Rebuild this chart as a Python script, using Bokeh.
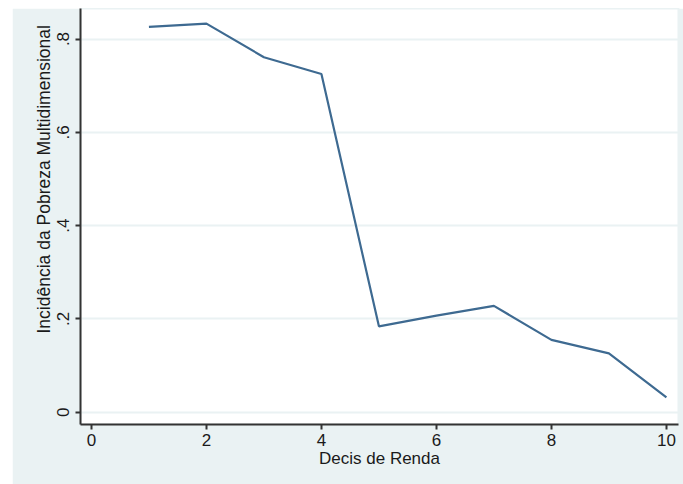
from bokeh.plotting import figure
from bokeh.models import ColumnDataSource, FixedTicker, CustomJSTickFormatter, Range1d, Spacer, Title
from bokeh.layouts import row, column
from bokeh.embed import file_html
from bokeh.resources import INLINE

decis = [1, 2, 3, 4, 5, 6, 7, 8, 9, 10]
incidencia = [0.826, 0.833, 0.761, 0.725, 0.184, 0.207, 0.228, 0.155, 0.126, 0.032]
x_ticks = [0, 2, 4, 6, 8, 10]
y_ticks = [0, 0.2, 0.4, 0.6, 0.8]
x_title = "Decis de Renda"
y_title = "Incidência da Pobreza Multidimensional"

BG = "#eaf2f3"
FONT = "Liberation Sans"

src = ColumnDataSource(dict(x=decis, y=incidencia))

p = figure(width=671, height=476, output_backend="svg", toolbar_location=None,
           x_range=Range1d(-0.19, 10.21), y_range=Range1d(-0.0264, 0.8654),
           min_border_left=68, min_border_right=5, min_border_top=0, min_border_bottom=60)
p.border_fill_color = BG
p.background_fill_color = "white"
p.outline_line_color = BG
p.outline_line_width = 2

p.line("x", "y", source=src, line_color="#3e6a91", line_width=2.2)

p.xaxis.ticker = FixedTicker(ticks=x_ticks)
p.yaxis.ticker = FixedTicker(ticks=y_ticks)
p.yaxis.formatter = CustomJSTickFormatter(code="if (Math.abs(tick) < 1e-9) return '0'; return tick.toFixed(1).replace(/^0/, '');")
p.yaxis.major_label_orientation = "vertical"

for ax in (p.xaxis[0], p.yaxis[0]):
    ax.axis_line_color = "#333333"
    ax.axis_line_width = 2
    ax.major_tick_line_color = "#333333"
    ax.major_tick_line_width = 2
    ax.major_tick_out = 5
    ax.major_tick_in = 0
    ax.minor_tick_line_color = None
    ax.major_label_text_font = FONT
    ax.major_label_text_font_size = "17px"
    ax.major_label_text_color = "#1a1a1a"
    ax.axis_label_text_font = FONT
    ax.axis_label_text_font_size = "17px"
    ax.axis_label_text_font_style = "normal"
    ax.axis_label_text_color = "#1a1a1a"

p.xaxis.axis_label = x_title
p.xaxis.major_label_standoff = 4
p.xaxis.axis_label_standoff = 0
p.yaxis.major_label_standoff = 6

ytitle = Title(text=y_title, align="left", offset=91, standoff=2,
               text_font=FONT, text_font_size="17.5px", text_font_style="normal",
               text_color="#1a1a1a")
p.add_layout(ytitle, "left")

p.xgrid.grid_line_color = None
p.ygrid.grid_line_color = BG
p.ygrid.grid_line_width = 2

layout = row(Spacer(width=12), column(Spacer(height=8), p))
open("out.html", "w").write(file_html(layout, INLINE))
